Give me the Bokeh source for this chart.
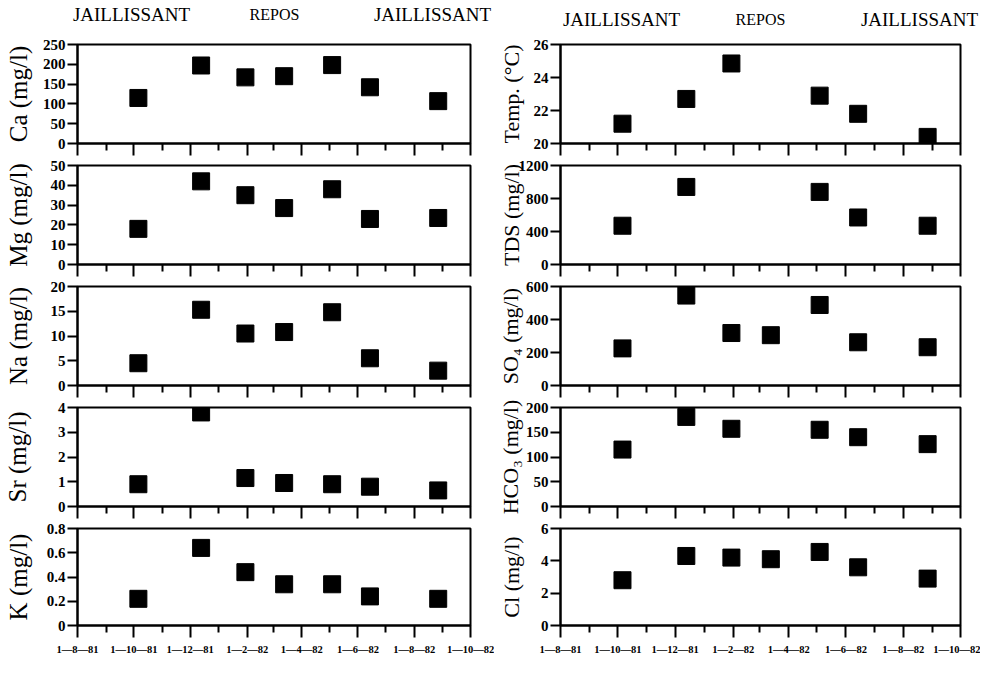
import numpy as np
from bokeh.plotting import figure
from bokeh.layouts import column, row
from bokeh.models import Range1d, FixedTicker, CustomJSTickFormatter
from bokeh.embed import file_html
from bokeh.resources import INLINE
from bokeh.core.properties import value

SERIF = "Liberation Serif"

# ---------------- data ----------------
sample_dates = ["1981-10-06", "1981-12-13", "1982-01-30", "1982-03-13",
                "1982-05-04", "1982-06-14", "1982-08-27"]

x_start = "1981-08-01"
x_end = "1982-10-01"
major_tick_dates = ["1981-08-01", "1981-10-01", "1981-12-01", "1982-02-01",
                    "1982-04-01", "1982-06-01", "1982-08-01", "1982-10-01"]
major_tick_labels = ["1—8—81", "1—10—81", "1—12—81", "1—2—82",
                     "1—4—82", "1—6—82", "1—8—82", "1—10—82"]
minor_tick_dates = ["1981-09-01", "1981-11-01", "1982-01-01", "1982-03-01",
                    "1982-05-01", "1982-07-01", "1982-09-01"]

ca = [115, 197, 167, 170, 198, 142, 107]
mg = [18, 42, 35, 28.5, 38, 23, 23.5]
na = [4.5, 15.3, 10.5, 10.8, 14.8, 5.5, 3.0]
sr = [0.9, 3.8, 1.15, 0.95, 0.9, 0.8, 0.65]
k = [0.22, 0.64, 0.44, 0.34, 0.34, 0.24, 0.22]

temp = [21.2, 22.7, 24.85, None, 22.9, 21.8, 20.4]
tds = [470, 940, None, None, 880, 570, 470]
so4 = [225, 545, 318, 305, 488, 262, 232]
hco3 = [115, 181, 157, None, 155, 140, 126]
cl = [2.8, 4.3, 4.2, 4.1, 4.55, 3.6, 2.9]

ca_ticks = [0, 50, 100, 150, 200, 250]
mg_ticks = [0, 10, 20, 30, 40, 50]
na_ticks = [0, 5, 10, 15, 20]
sr_ticks = [0, 1, 2, 3, 4]
k_ticks = [0, 0.2, 0.4, 0.6, 0.8]
temp_ticks = [20, 22, 24, 26]
tds_ticks = [0, 400, 800, 1200]
so4_ticks = [0, 200, 400, 600]
hco3_ticks = [0, 50, 100, 150, 200]
cl_ticks = [0, 2, 4, 6]

left_labels = ["Ca (mg/l)", "Mg (mg/l)", "Na (mg/l)", "Sr (mg/l)", "K (mg/l)"]
right_labels = ["Temp. (°C)", "TDS (mg/l)", "SO₄ (mg/l)", "HCO₃ (mg/l)", "Cl (mg/l)"]

header_left = ["JAILLISSANT", "REPOS", "JAILLISSANT"]
header_right = ["JAILLISSANT", "REPOS", "JAILLISSANT"]


def to_ms(ds):
    return np.array(ds, dtype="datetime64[ms]").astype("int64").astype(float).tolist()


sample_ms = to_ms(sample_dates)
major_ms = to_ms(major_tick_dates)
minor_ms = to_ms(minor_tick_dates)
xs, xe = to_ms([x_start, x_end])

TICK_FONT_PX = 15


def est_width(s):
    w = 0.0
    for ch in s:
        w += 0.25 if ch == "." else 0.5
    return w * TICK_FONT_PX


def fmt(v):
    r = round(v, 3)
    return str(int(r)) if r == int(r) else str(r)


def make_panel(ylabel, values, yticks, col, show_xlabels):
    if col == 0:
        left, frame_w, right, dist, lab_size = 70, 400, 24, 43, "25px"
    else:
        left, frame_w, right, dist, lab_size = 63, 403, 20, 34, "22px"
    top, frame_h = 8, 99
    bottom = 30 if show_xlabels else 14
    p = figure(width=left + frame_w + right, height=top + frame_h + bottom,
               x_axis_type="datetime",
               x_range=Range1d(xs, xe), y_range=Range1d(yticks[0], yticks[-1]),
               output_backend="svg", toolbar_location=None, tools="",
               min_border_left=left, min_border_right=right,
               min_border_top=top, min_border_bottom=bottom)
    p.xgrid.visible = False
    p.ygrid.visible = False
    p.outline_line_color = "black"
    p.outline_line_width = 2
    p.outline_line_alpha = 1.0
    p.background_fill_color = "white"
    p.border_fill_color = "white"

    px = [d for d, v in zip(sample_ms, values) if v is not None]
    py = [v for v in values if v is not None]
    p.scatter(px, py, marker="square", size=17, color="black")

    xa = p.xaxis[0]
    xa.ticker = FixedTicker(ticks=major_ms, minor_ticks=minor_ms)
    xa.axis_line_width = 2
    xa.major_tick_out = 12
    xa.major_tick_in = 0
    xa.minor_tick_out = 7
    xa.minor_tick_in = 0
    xa.major_tick_line_width = 2
    xa.minor_tick_line_width = 2
    xa.major_label_text_font = SERIF
    xa.major_label_text_font_style = "bold"
    xa.major_label_text_color = "black"
    if show_xlabels:
        xa.formatter = CustomJSTickFormatter(args=dict(vals=major_ms, labs=major_tick_labels), code="""
            let best = 0; let bd = Infinity;
            for (let i = 0; i < vals.length; i++) {
                const d = Math.abs(vals[i] - tick);
                if (d < bd) { bd = d; best = i; }
            }
            return labs[best];
        """)
        xa.major_label_text_font_size = "10.5px"
        xa.major_label_standoff = 6
    else:
        xa.formatter = CustomJSTickFormatter(code="return '';")
        xa.major_label_text_font_size = "1px"
        xa.major_label_standoff = 0

    ya = p.yaxis[0]
    ya.ticker = FixedTicker(ticks=yticks, minor_ticks=[])
    ya.formatter = CustomJSTickFormatter(code="return String(Math.round(tick*1000)/1000);")
    ya.axis_line_width = 2
    ya.major_tick_out = 10
    ya.major_tick_in = 0
    ya.minor_tick_out = 0
    ya.minor_tick_in = 0
    ya.major_tick_line_width = 2
    ya.major_label_standoff = 2
    ya.major_label_text_font = SERIF
    ya.major_label_text_font_style = "bold"
    ya.major_label_text_font_size = f"{TICK_FONT_PX}px"
    ya.major_label_text_color = "black"
    widest = max(est_width(fmt(t)) for t in yticks)
    ya.axis_label = ylabel
    ya.axis_label_text_font = SERIF
    ya.axis_label_text_font_style = "normal"
    ya.axis_label_text_font_size = lab_size
    ya.axis_label_text_color = "black"
    ya.axis_label_standoff = int(round(dist - 12 - widest))
    return p


left_series = [(left_labels[0], ca, ca_ticks), (left_labels[1], mg, mg_ticks),
               (left_labels[2], na, na_ticks), (left_labels[3], sr, sr_ticks),
               (left_labels[4], k, k_ticks)]
right_series = [(right_labels[0], temp, temp_ticks), (right_labels[1], tds, tds_ticks),
                (right_labels[2], so4, so4_ticks), (right_labels[3], hco3, hco3_ticks),
                (right_labels[4], cl, cl_ticks)]

left_figs = [make_panel(lbl, vals, tk, 0, i == 4) for i, (lbl, vals, tk) in enumerate(left_series)]
right_figs = [make_panel(lbl, vals, tk, 1, i == 4) for i, (lbl, vals, tk) in enumerate(right_series)]

# header with the regime names
HW, HH = 980, 36
header = figure(width=HW, height=HH, x_range=Range1d(0, HW), y_range=Range1d(0, HH),
                output_backend="svg", toolbar_location=None, tools="",
                min_border=0, min_border_left=0, min_border_right=0,
                min_border_top=0, min_border_bottom=0)
header.axis.visible = False
header.grid.visible = False
header.outline_line_color = None

hx_left = [131, 274, 432]
hx_right = [621, 760, 919]
hy_left, hy_right = 22, 17
for xpos, ypos, txt in list(zip(hx_left, [hy_left] * 3, header_left)) + list(zip(hx_right, [hy_right] * 3, header_right)):
    big = txt != "REPOS"
    header.text(x=[xpos], y=[ypos], text=[txt], text_font=value(SERIF),
                text_font_size="19px" if big else "16px",
                text_font_style="normal",
                text_align="center", text_baseline="middle", text_color="black")

layout = column(header, row(column(*left_figs), column(*right_figs)))

open("out.html", "w").write(file_html(layout, INLINE))
